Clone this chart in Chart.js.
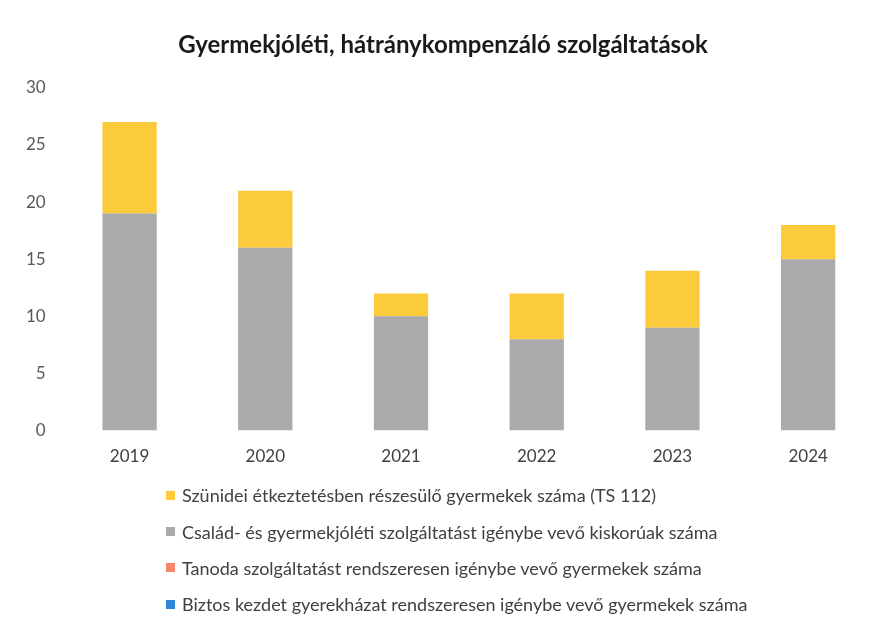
<!DOCTYPE html>
<html>
<head>
<meta charset="utf-8">
<script src="https://cdn.jsdelivr.net/npm/chart.js@4.4.1/dist/chart.umd.min.js"></script>
<style>
  html, body { margin: 0; padding: 0; background: #ffffff; }
  #wrap { position: relative; width: 888px; height: 629px; }
  #legend { position: absolute; left: 166px; top: 477px; font-family: Lato, "Open Sans", sans-serif; font-size: 18px; color: #404040; }
  .item { display: flex; align-items: center; height: 36.4px; white-space: nowrap; }
  .box { width: 9px; height: 9px; margin-right: 7px; flex: none; }
</style>
</head>
<body>
<div id="wrap">
  <canvas id="c" width="888" height="629"></canvas>
  <div id="legend"></div>
</div>
<script>
const title = "Gyermekjóléti, hátránykompenzáló szolgáltatások";
const years = ["2019", "2020", "2021", "2022", "2023", "2024"];
const labelSzunidei = "Szünidei étkeztetésben részesülő gyermekek száma (TS 112)";
const labelCsalad = "Család- és gyermekjóléti szolgáltatást igénybe vevő kiskorúak száma";
const labelTanoda = "Tanoda szolgáltatást rendszeresen igénybe vevő gyermekek száma";
const labelBiztos = "Biztos kezdet gyerekházat rendszeresen igénybe vevő gyermekek száma";
const csaladValues = [19, 16, 10, 8, 9, 15];
const szunideiValues = [8, 5, 2, 4, 5, 3];
const tanodaValues = [0, 0, 0, 0, 0, 0];
const biztosValues = [0, 0, 0, 0, 0, 0];
const yTicks = [0, 5, 10, 15, 20, 25, 30];

const colYellow = "#FBCB3C";
const colGray = "#AAAAAA";
const colOrange = "#F4876A";
const colBlue = "#2F86D6";

const ds = (label, data, color) => ({
  label, data, backgroundColor: color, borderWidth: 0,
  barPercentage: 0.8, categoryPercentage: 0.5, stack: "s"
});

const chart = new Chart(document.getElementById("c"), {
  type: "bar",
  data: {
    labels: years,
    datasets: [
      ds(labelCsalad, csaladValues, colGray),
      ds(labelSzunidei, szunideiValues, colYellow),
      ds(labelTanoda, tanodaValues, colOrange),
      ds(labelBiztos, biztosValues, colBlue)
    ]
  },
  options: {
    responsive: false,
    animation: false,
    layout: { padding: { left: 10, right: 12, top: 0, bottom: 146 } },
    plugins: {
      legend: { display: false },
      tooltip: { enabled: false },
      title: {
        display: true, text: title,
        font: { family: "Lato, 'Open Sans', sans-serif", size: 24, weight: "bold" },
        color: "#1a1a1a",
        padding: { top: 31, bottom: 28 }
      }
    },
    scales: {
      x: {
        stacked: true,
        grid: { display: false, drawTicks: false },
        border: { display: false },
        ticks: { color: "#404040", padding: 16, font: { family: "Lato, 'Open Sans', sans-serif", size: 17 } }
      },
      y: {
        stacked: true,
        min: 0, max: 30,
        afterBuildTicks: (axis) => { axis.ticks = yTicks.map(v => ({ value: v })); },
        grid: { display: false, drawTicks: false },
        border: { display: false },
        ticks: { color: "#595959", padding: 16, font: { family: "Lato, 'Open Sans', sans-serif", size: 17 } }
      }
    }
  }
});

const legendOrder = [1, 0, 2, 3];
const legendEl = document.getElementById("legend");
legendOrder.forEach(i => {
  const d = chart.data.datasets[i];
  const row = document.createElement("div");
  row.className = "item";
  const box = document.createElement("span");
  box.className = "box";
  box.style.background = d.backgroundColor;
  const txt = document.createElement("span");
  txt.textContent = d.label;
  row.appendChild(box);
  row.appendChild(txt);
  legendEl.appendChild(row);
});
</script>
</body>
</html>
